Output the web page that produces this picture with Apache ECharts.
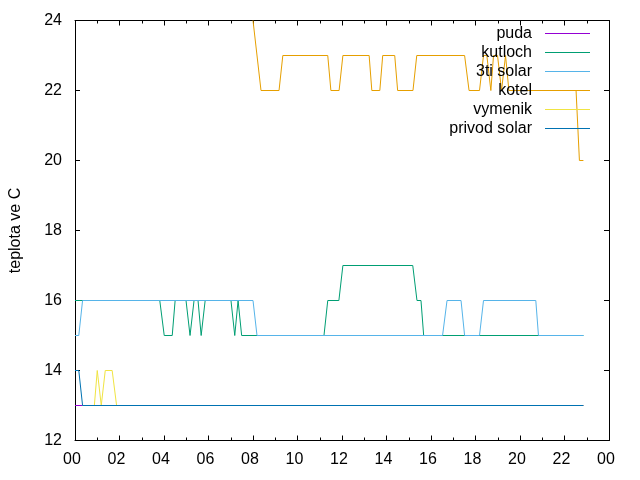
<!DOCTYPE html>
<html lang="cs">

<head>
    <meta charset="UTF-8">
    <title>teploty</title>
    <script type="text/javascript" src="https://cdn.jsdelivr.net/npm/echarts@6/dist/echarts.min.js"></script>
    <style>
        html, body { margin: 0; padding: 0; background: #fff; }
        #graf { width: 640px; height: 480px; }
    </style>
</head>

<body>
    <div id="graf"></div>
    <script>
        // cas v hodinach, teplota ve C
        var puda = [[0, 13], [22.85, 13]];
        var kutloch = [[0, 16], [3.81, 16], [4.01, 15], [4.37, 15], [4.50, 16], [4.99, 16], [5.17, 15], [5.35, 16],
            [5.53, 16], [5.67, 15], [5.85, 16], [7.01, 16], [7.18, 15], [7.33, 16], [7.49, 15], [11.19, 15],
            [11.36, 16], [11.86, 16], [12.04, 17], [15.18, 17], [15.37, 16], [15.55, 16], [15.67, 15], [22.85, 15]];
        var tretiSolar = [[0, 15], [0.17, 15], [0.34, 16], [8.0, 16], [8.18, 15], [16.52, 15], [16.72, 16],
            [17.35, 16], [17.51, 15], [18.18, 15], [18.36, 16], [20.71, 16], [20.83, 15], [22.85, 15]];
        var kotel = [[8.0, 24], [8.36, 22], [9.17, 22], [9.34, 23], [11.36, 23], [11.5, 22], [11.87, 22], [12.04, 23],
            [13.22, 23], [13.34, 22], [13.70, 22], [13.83, 23], [14.37, 23], [14.5, 22], [15.19, 22], [15.36, 23],
            [17.51, 23], [17.71, 22], [18.18, 22], [18.36, 23], [18.51, 23], [18.69, 22], [18.81, 23], [18.99, 23],
            [19.17, 22], [19.35, 23], [19.40, 23], [19.50, 22], [22.52, 22], [22.67, 20], [22.85, 20]];
        var vymenik = [[0.34, 13], [0.87, 13], [1.0, 14], [1.18, 13], [1.36, 14], [1.67, 14], [1.87, 13], [22.85, 13]];
        var privodSolar = [[0, 14], [0.17, 14], [0.34, 13], [22.85, 13]];

        var nazvy = ['puda', 'kutloch', '3ti solar', 'kotel', 'vymenik', 'privod solar'];
        var data = [puda, kutloch, tretiSolar, kotel, vymenik, privodSolar];
        var barvy = ['#9400d3', '#009e73', '#56b4e9', '#e69f00', '#f0e442', '#0072b2'];

        var font = 'Liberation Sans, Arial, sans-serif';

        var series = [];
        for (var i = 0; i < nazvy.length; i++) {
            series.push({
                name: nazvy[i],
                type: 'line',
                data: data[i],
                showSymbol: false,
                symbol: 'none',
                clip: true,
                color: barvy[i],
                lineStyle: { width: 1, color: barvy[i] }
            });
        }

        // osa x - ticky dovnitr, i na horni strane
        function osaX(pozice, popisky) {
            return {
                type: 'value',
                position: pozice,
                min: 0,
                max: 24,
                interval: 2,
                splitNumber: 12,
                axisLine: { show: true, onZero: false, lineStyle: { color: '#000', width: 1 } },
                axisTick: { show: true, inside: true, length: 5, lineStyle: { color: '#000' } },
                minorTick: { show: true, splitNumber: 2, length: 3, lineStyle: { color: '#000' } },
                splitLine: { show: false },
                axisLabel: {
                    show: popisky,
                    margin: 11,
                    padding: [0, 6, 0, 0],
                    color: '#000',
                    fontSize: 16,
                    fontFamily: font,
                    formatter: function(v) {
                        var h = v % 24;
                        return (h < 10 ? '0' : '') + h;
                    }
                }
            };
        }

        function osaY(pozice, popisky) {
            return {
                type: 'value',
                position: pozice,
                min: 12,
                max: 24,
                interval: 2,
                name: popisky ? 'teplota ve C' : '',
                nameLocation: 'middle',
                nameRotate: 90,
                nameGap: 51,
                nameTextStyle: { color: '#000', fontSize: 16, fontFamily: font },
                axisLine: { show: true, onZero: false, lineStyle: { color: '#000', width: 1 } },
                axisTick: { show: true, inside: true, length: 5, lineStyle: { color: '#000' } },
                splitLine: { show: false },
                axisLabel: { show: popisky, margin: 13, color: '#000', fontSize: 16, fontFamily: font }
            };
        }

        var graf = echarts.init(document.getElementById('graf'), null, { renderer: 'canvas' });
        graf.setOption({
            animation: false,
            backgroundColor: '#fff',
            // 35 px na stupen, at jsou vodorovne cary ostre
            grid: { left: 74, right: 31, top: 20.5, bottom: 39.5 },
            legend: {
                data: nazvy,
                orient: 'vertical',
                align: 'right',
                right: 50,
                top: 24,
                padding: 0,
                itemGap: 0,
                itemWidth: 45,
                itemHeight: 1,
                icon: 'rect',
                textStyle: { color: '#000', fontSize: 16, fontFamily: font, lineHeight: 19, padding: [0, 8, 0, 0] }
            },
            xAxis: [osaX('bottom', true), osaX('top', false)],
            yAxis: [osaY('left', true), osaY('right', false)],
            series: series
        });
    </script>
</body>

</html>
